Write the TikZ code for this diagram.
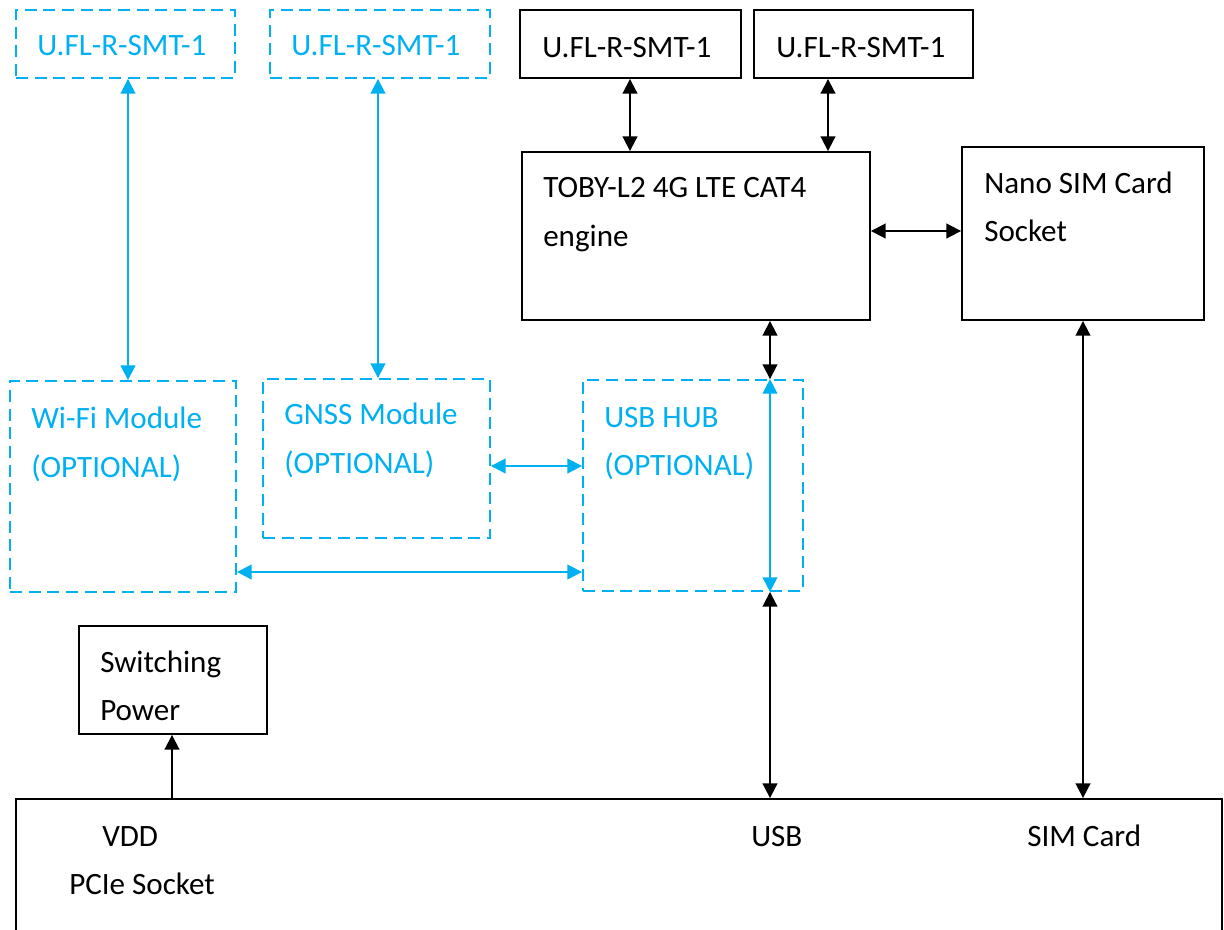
\documentclass[tikz,border=0pt]{standalone}
\usepackage{fontspec}
\setmainfont{Carlito}
\usetikzlibrary{arrows.meta,fit}
\definecolor{cblue}{HTML}{00B0F0}
\begin{document}
\begin{tikzpicture}[x=0.75pt,y=-0.75pt,
 bbox/.style={draw=black, line width=1.4pt, rectangle, inner sep=0pt},
 dbox/.style={draw=cblue, line width=1.4pt, dash pattern=on 9pt off 5pt, rectangle, inner sep=0pt},
 lbl/.style={anchor=base west, inner sep=0pt, font=\fontsize{23.3}{28}\selectfont},
 blbl/.style={lbl, text=cblue},
 dbl/.style={{Triangle[length=11pt,width=11pt]}-{Triangle[length=11pt,width=11pt]}, line width=1.4pt},
 sgl/.style={-{Triangle[length=11pt,width=11pt]}, line width=1.4pt}]
\useasboundingbox (0,0) rectangle (1224,929);
\clip (0,0) rectangle (1224,929);
% boxes
\node[dbox, fit={(16,10) (235,78)}] (ufl1) {};
\node[dbox, fit={(270,10) (490,78)}] (ufl2) {};
\node[bbox, fit={(520,10) (741,78)}] (ufl3) {};
\node[bbox, fit={(754,10) (973,78)}] (ufl4) {};
\node[bbox, fit={(522,152) (870,320)}] (toby) {};
\node[bbox, fit={(962,147) (1204,320)}] (nano) {};
\node[dbox, fit={(10,381) (236,592)}] (wifi) {};
\node[dbox, fit={(263,379) (490,538)}] (gnss) {};
\node[dbox, fit={(583,380) (803,591)}] (hub) {};
\node[bbox, fit={(79,626) (267,734)}] (sw) {};
\node[bbox, fit={(16,799) (1222,980)}] (pcie) {};
% labels
\node[blbl] (t1) at (37,55) {U.FL-R-SMT-1};
\node[blbl] (t2) at (291,55) {U.FL-R-SMT-1};
\node[lbl] (t3) at (542,57) {U.FL-R-SMT-1};
\node[lbl] (t4) at (776,57) {U.FL-R-SMT-1};
\node[lbl] (t5) at (543,197) {TOBY-L2 4G LTE CAT4};
\node[lbl] (t6) at (543,246) {engine};
\node[lbl] (t7) at (984,193) {Nano SIM Card};
\node[lbl] (t8) at (984,241) {Socket};
\node[blbl] (t9) at (31,428) {Wi-Fi Module};
\node[blbl] (t10) at (31,477) {(OPTIONAL)};
\node[blbl] (t11) at (284,424) {GNSS Module};
\node[blbl] (t12) at (284,473) {(OPTIONAL)};
\node[blbl] (t13) at (604,427) {USB HUB};
\node[blbl] (t14) at (604,475) {(OPTIONAL)};
\node[lbl] (t15) at (100,672) {Switching};
\node[lbl] (t16) at (100,720) {Power};
\node[lbl] (t17) at (102,846) {VDD};
\node[lbl] (t18) at (69,894) {PCIe Socket};
\node[lbl] (t19) at (751,846) {USB};
\node[lbl] (t20) at (1027,846) {SIM Card};
% guide coordinates
\coordinate (xa) at (128,0);
\coordinate (xb) at (378,0);
\coordinate (xc) at (630,0);
\coordinate (xd) at (828,0);
\coordinate (xe) at (770,0);
\coordinate (xf) at (1083,0);
\coordinate (xg) at (172,0);
\coordinate (ya) at (0,231);
\coordinate (yb) at (0,466);
\coordinate (yc) at (0,572);
% connectors
\draw[dbl, cblue] (ufl1.south -| xa) -- (wifi.north -| xa);
\draw[dbl, cblue] (ufl2.south -| xb) -- (gnss.north -| xb);
\draw[dbl] (ufl3.south -| xc) -- (toby.north -| xc);
\draw[dbl] (ufl4.south -| xd) -- (toby.north -| xd);
\draw[dbl] (toby.east |- ya) -- (nano.west |- ya);
\draw[dbl] (nano.south -| xf) -- (pcie.north -| xf);
\draw[dbl] (toby.south -| xe) -- (hub.north -| xe);
\draw[dbl, cblue] (hub.north -| xe) -- (hub.south -| xe);
\draw[dbl] (hub.south -| xe) -- (pcie.north -| xe);
\draw[dbl, cblue] (gnss.east |- yb) -- (hub.west |- yb);
\draw[dbl, cblue] (wifi.east |- yc) -- (hub.west |- yc);
\draw[sgl] (pcie.north -| xg) -- (sw.south -| xg);
\end{tikzpicture}
\end{document}
